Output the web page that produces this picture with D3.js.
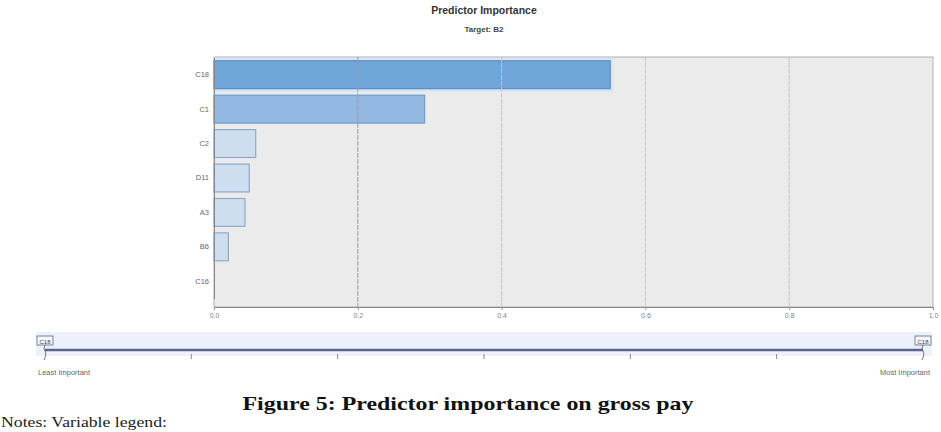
<!DOCTYPE html>
<html>
<head>
<meta charset="utf-8">
<script src="https://cdn.jsdelivr.net/npm/d3@7"></script>
<style>
  body { margin: 0; background: #fff; }
  svg { display: block; }
</style>
</head>
<body>
<svg id="chart" width="941" height="432"></svg>
<script>
// Predictor names, top to bottom
var predictors = ["C18", "C1", "C2", "D11", "A3", "B6", "C16"];
// Importance values
var importance = [0.551, 0.293, 0.058, 0.049, 0.043, 0.020, 0.0];
var xTicks = [0, 0.2, 0.4, 0.6, 0.8, 1.0];
var sliderSteps = [0, 1, 2, 3, 4, 5, 6];

var svg = d3.select("#chart");

// plot box (named to avoid clashing with window.top)
var plotLeft = 214, plotRight = 933, plotTop = 57, plotBottom = 307;

var x = d3.scaleLinear().domain([0, 1]).range([plotLeft, plotRight]);
var y = d3.scaleBand()
    .domain(predictors)
    .range([57.5, 298.5])
    .paddingInner(0.19)
    .paddingOuter(0.095);

// Titles
svg.append("text")
    .attr("x", 484).attr("y", 14)
    .attr("text-anchor", "middle")
    .style("font-family", "Liberation Sans, Arial, sans-serif")
    .style("font-weight", "bold")
    .style("font-size", "10.5px")
    .attr("fill", "#333")
    .text("Predictor Importance");

svg.append("text")
    .attr("x", 484).attr("y", 32)
    .attr("text-anchor", "middle")
    .style("font-family", "Liberation Sans, Arial, sans-serif")
    .style("font-weight", "bold")
    .style("font-size", "8px")
    .attr("fill", "#444")
    .text("Target: B2");

// background
svg.append("rect")
    .attr("x", plotLeft).attr("y", plotTop)
    .attr("width", plotRight - plotLeft).attr("height", plotBottom - plotTop)
    .attr("fill", "#ebebeb")
    .attr("stroke", "#b0b0b0");

// selected-row halo around the top bar
svg.append("rect")
    .attr("x", plotLeft)
    .attr("y", y("C18") - 3)
    .attr("width", x(importance[0]) - plotLeft + 3)
    .attr("height", y.bandwidth() + 6)
    .attr("fill", "#d6e6f6");

// bars
svg.selectAll("rect.bar")
    .data(importance)
    .enter()
    .append("rect")
    .attr("class", "bar")
    .attr("x", x(0))
    .attr("y", function(d, i) { return y(predictors[i]); })
    .attr("width", function(d) { return x(d) - x(0); })
    .attr("height", y.bandwidth())
    .attr("fill", function(d, i) {
        return i == 0 ? "#70a5d9" : (i == 1 ? "#93b9e2" : "#cfdeee");
    })
    .attr("stroke", function(d, i) {
        return i == 0 ? "#5a8cc4" : (i == 1 ? "#6f9ccf" : "#8eaacb");
    })
    .attr("stroke-width", 1.2)
    .attr("stroke-opacity", function(d) { return d > 0 ? 1 : 0; });

// gridlines on top
svg.selectAll("line.grid")
    .data(xTicks.slice(1, -1))
    .enter()
    .append("line")
    .attr("class", "grid")
    .attr("x1", function(d) { return x(d); })
    .attr("x2", function(d) { return x(d); })
    .attr("y1", plotTop).attr("y2", plotBottom)
    .attr("stroke", function(d) { return d == 0.2 ? "#9a9ea6" : "#c6c6c6"; })
    .attr("stroke-dasharray", "5,1");

// x axis
var xAxis = svg.append("g")
    .attr("transform", "translate(0," + plotBottom + ")")
    .call(d3.axisBottom(x).tickValues(xTicks).tickFormat(d3.format(".1f")).tickSize(3));
xAxis.select(".domain").attr("stroke", "#888");
xAxis.selectAll(".tick line").attr("stroke", "#999");
xAxis.selectAll("text")
    .attr("fill", "#808080")
    .style("font-family", "Liberation Sans, Arial, sans-serif")
    .style("font-size", "7px");

// y axis
var yAxis = svg.append("g")
    .attr("transform", "translate(" + plotLeft + ",0)")
    .call(d3.axisLeft(y).tickSize(0).tickPadding(5));
yAxis.select(".domain").attr("stroke", "#8a8a8a");
yAxis.selectAll("text")
    .attr("fill", "#666")
    .style("font-family", "Liberation Sans, Arial, sans-serif")
    .style("font-size", "7.5px");

// importance slider along the bottom
var s = d3.scaleLinear().domain([0, 6]).range([45, 923]);

svg.append("rect")
    .attr("x", 36).attr("y", 332)
    .attr("width", 896).attr("height", 24)
    .attr("fill", "#edf1fb");

svg.append("line")
    .attr("x1", s(0)).attr("x2", s(6))
    .attr("y1", 350).attr("y2", 350)
    .attr("stroke", "#5b6690")
    .attr("stroke-width", 2.5);

svg.selectAll("line.step")
    .data(sliderSteps.slice(1, -1))
    .enter()
    .append("line")
    .attr("class", "step")
    .attr("x1", function(d) { return s(d); })
    .attr("x2", function(d) { return s(d); })
    .attr("y1", 354).attr("y2", 359)
    .attr("stroke", "#888");

// handles
[0, 6].forEach(function(d) {
    var hx = s(d);
    var g = svg.append("g");
    g.append("rect")
        .attr("x", hx - 8).attr("y", 336)
        .attr("width", 16).attr("height", 9)
        .attr("fill", "#f4f6fb")
        .attr("stroke", "#5b6690")
        .attr("stroke-width", 0.8);
    g.append("text")
        .attr("x", hx).attr("y", 343.5)
        .attr("text-anchor", "middle")
        .style("font-family", "Liberation Sans, Arial, sans-serif")
        .style("font-size", "6px")
        .attr("fill", "#444")
        .text("C18");
    g.append("path")
        .attr("d", "M" + hx + ",345 q-2,4 0,6 q2,3 -1,9")
        .attr("fill", "none")
        .attr("stroke", "#555")
        .attr("stroke-width", 0.8);
});

svg.append("text")
    .attr("x", 38).attr("y", 375)
    .style("font-family", "Liberation Sans, Arial, sans-serif")
    .style("font-size", "7.5px")
    .attr("fill", "#666")
    .text("Least Important");

svg.append("text")
    .attr("x", 930).attr("y", 375)
    .attr("text-anchor", "end")
    .style("font-family", "Liberation Sans, Arial, sans-serif")
    .style("font-size", "7.5px")
    .attr("fill", "#666")
    .text("Most Important");

// figure caption
svg.append("text")
    .attr("x", 468).attr("y", 410)
    .attr("text-anchor", "middle")
    .style("font-family", "Liberation Serif, serif")
    .style("font-weight", "bold")
    .style("font-size", "19px")
    .attr("textLength", 451)
    .attr("lengthAdjust", "spacingAndGlyphs")
    .attr("fill", "#111")
    .text("Figure 5: Predictor importance on gross pay");

svg.append("text")
    .attr("x", 1).attr("y", 427)
    .style("font-family", "Liberation Serif, serif")
    .style("font-size", "14.5px")
    .attr("textLength", 166)
    .attr("lengthAdjust", "spacingAndGlyphs")
    .attr("fill", "#222")
    .text("Notes: Variable legend:");
</script>
</body>
</html>
